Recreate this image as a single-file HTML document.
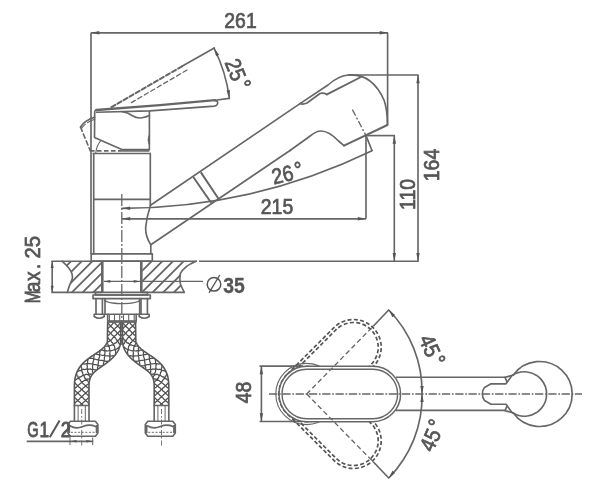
<!DOCTYPE html>
<html><head><meta charset="utf-8"><title>Faucet dimensions</title>
<style>
html,body{margin:0;padding:0;background:#fff;}
body{width:600px;height:503px;overflow:hidden;}
svg{display:block;font-family:"Liberation Sans",sans-serif;}
</style></head><body>
<svg width="600" height="503" viewBox="0 0 600 503">
<rect width="600" height="503" fill="#fff"/>
<defs><filter id="soft" x="0" y="0" width="600" height="503" filterUnits="userSpaceOnUse"><feGaussianBlur stdDeviation="0.5"/></filter></defs>
<g filter="url(#soft)">
<line x1="91.00" y1="32.80" x2="388.00" y2="32.80" stroke="#666666" stroke-width="1.65" />
<line x1="91.00" y1="32.80" x2="91.00" y2="254.00" stroke="#666666" stroke-width="1.65" />
<line x1="387.60" y1="32.80" x2="387.60" y2="125.00" stroke="#666666" stroke-width="1.65" />
<polygon points="91.30,32.80 99.30,31.10 99.30,34.50" fill="#555"/>
<polygon points="387.70,32.80 379.70,34.50 379.70,31.10" fill="#555"/>
<text transform="translate(240.5 20.2) rotate(0) scale(0.88 1)" font-size="22" font-weight="normal" fill="#555" stroke="#555" stroke-width="0.75" text-anchor="middle" letter-spacing="0" y="7.88">261</text>
<line x1="348.00" y1="75.00" x2="418.60" y2="75.00" stroke="#666666" stroke-width="1.65" />
<line x1="418.00" y1="75.00" x2="418.00" y2="261.30" stroke="#666666" stroke-width="1.65" />
<polygon points="418.00,75.20 419.70,83.20 416.30,83.20" fill="#555"/>
<polygon points="418.00,261.00 416.30,253.00 419.70,253.00" fill="#555"/>
<text transform="translate(431.5 165) rotate(-90) scale(0.88 1)" font-size="22" font-weight="normal" fill="#555" stroke="#555" stroke-width="0.75" text-anchor="middle" letter-spacing="0" y="7.88">164</text>
<line x1="366.00" y1="135.60" x2="395.00" y2="135.60" stroke="#666666" stroke-width="1.65" />
<line x1="394.30" y1="135.60" x2="394.30" y2="261.30" stroke="#666666" stroke-width="1.65" />
<polygon points="394.30,135.80 396.00,143.80 392.60,143.80" fill="#555"/>
<polygon points="394.30,261.00 392.60,253.00 396.00,253.00" fill="#555"/>
<text transform="translate(407.3 194.5) rotate(-90) scale(0.88 1)" font-size="22" font-weight="normal" fill="#555" stroke="#555" stroke-width="0.75" text-anchor="middle" letter-spacing="0" y="7.88">110</text>
<line x1="122.00" y1="218.80" x2="366.00" y2="218.80" stroke="#666666" stroke-width="1.65" />
<line x1="366.00" y1="135.60" x2="366.00" y2="218.80" stroke="#666666" stroke-width="1.65" />
<polygon points="122.20,218.80 130.20,217.10 130.20,220.50" fill="#555"/>
<polygon points="365.80,218.80 357.80,220.50 357.80,217.10" fill="#555"/>
<text transform="translate(277 206.3) rotate(0) scale(0.88 1)" font-size="22" font-weight="normal" fill="#555" stroke="#555" stroke-width="0.75" text-anchor="middle" letter-spacing="0" y="7.88">215</text>
<line x1="51.30" y1="261.20" x2="196.50" y2="261.20" stroke="#666666" stroke-width="1.65" />
<line x1="199.00" y1="261.20" x2="418.80" y2="261.20" stroke="#666666" stroke-width="1.65" />
<path d="M122,208.3 A577,577 0 0 0 372,150.7" stroke="#666666" stroke-width="1.65" fill="none" stroke-linejoin="round" stroke-linecap="round" />
<polygon points="122.20,208.30 130.20,206.60 130.20,210.00" fill="#555"/>
<line x1="366.00" y1="135.60" x2="372.20" y2="151.00" stroke="#666666" stroke-width="1.65" />
<text transform="translate(287.2 173.2) rotate(-13) scale(0.88 1)" font-size="22" font-weight="normal" fill="#555" stroke="#555" stroke-width="0.75" text-anchor="middle" letter-spacing="0" y="7.88">26<tspan dx="2.4" dy="-1.4">°</tspan></text>
<path d="M93.7,153.5 L93.7,254 M150.3,153.5 L150.3,205.3" stroke="#666666" stroke-width="1.65" fill="none" stroke-linejoin="round" stroke-linecap="round" />
<line x1="92.60" y1="153.50" x2="151.00" y2="153.50" stroke="#666666" stroke-width="1.65" />
<line x1="93.70" y1="199.40" x2="150.00" y2="199.40" stroke="#666666" stroke-width="1.65" />
<path d="M91.2,253.8 L152.3,253.8 L152.3,261 L91.2,261 Z" stroke="#666666" stroke-width="1.65" fill="none" stroke-linejoin="round" stroke-linecap="round" />
<line x1="121.80" y1="194.00" x2="121.80" y2="345.00" stroke="#666666" stroke-width="1.3" stroke-dasharray="12 2 2 2" />
<path d="M96.3,110 Q94.6,110.3 94.7,112 L94.5,137.6 L121.8,149.6 L149.4,149.6 L149.4,111" stroke="#666666" stroke-width="1.65" fill="none" stroke-linejoin="round" stroke-linecap="round" />
<path d="M96.3,110 L160,105.2 L215,100.2" stroke="#666666" stroke-width="2.3" fill="none" stroke-linejoin="round" stroke-linecap="round" />
<path d="M215,100.2 L229.3,98.4" stroke="#666666" stroke-width="1.65" fill="none" stroke-linejoin="round" stroke-linecap="round" />
<path d="M96.5,112.3 L150,110.9 L214.5,106.1 Q217,105.8 217.6,103.6 Q218.3,101 215,100.6" stroke="#666666" stroke-width="1.65" fill="none" stroke-linejoin="round" stroke-linecap="round" />
<path d="M122.5,111.8 Q128,112.5 132,115.5 Q137,118.7 142,117.8 Q146,117.3 149.4,115.6" stroke="#666666" stroke-width="1.65" fill="none" stroke-linejoin="round" stroke-linecap="round" />
<path d="M149.4,135 Q147.3,139.5 149.4,144.5" stroke="#666666" stroke-width="1.3" fill="none" stroke-linejoin="round" stroke-linecap="round" />
<line x1="121.80" y1="150.90" x2="149.40" y2="150.90" stroke="#666666" stroke-width="1.65" />
<line x1="90.00" y1="150.90" x2="121.80" y2="150.90" stroke="#666666" stroke-width="1.65" stroke-dasharray="4.5 2.5" />
<path d="M100.5,141 Q96.5,146 95.8,152.5" stroke="#666666" stroke-width="1.2" fill="none" stroke-linejoin="round" stroke-linecap="round" />
<path d="M94.7,117.3 Q84.5,120.5 80.5,127" stroke="#666666" stroke-width="1.65" fill="none" stroke-linejoin="round" stroke-linecap="round" />
<path d="M94.7,119.3 Q86,122 81.5,128.5" stroke="#666666" stroke-width="1.1" fill="none" stroke-dasharray="8 2.5" stroke-linejoin="round" stroke-linecap="round" />
<path d="M80.5,127 L90.2,150.6" stroke="#666666" stroke-width="1.6" fill="none" stroke-dasharray="4.5 3" stroke-linejoin="round" stroke-linecap="round" />
<path d="M214.3,48 L182,66.3" stroke="#666666" stroke-width="1.65" fill="none" stroke-linejoin="round" stroke-linecap="round" />
<path d="M182,66.3 L109.5,108.3" stroke="#666666" stroke-width="2.0" fill="none" stroke-dasharray="4.5 2.5" stroke-linejoin="round" stroke-linecap="round" />
<path d="M187,70 L129,104" stroke="#666666" stroke-width="1.3" fill="none" stroke-dasharray="4.5 3" stroke-linejoin="round" stroke-linecap="round" />
<path d="M214,48 Q226,72 229.4,98.4" stroke="#666666" stroke-width="1.65" fill="none" stroke-linejoin="round" stroke-linecap="round" />
<polygon points="214.10,48.20 219.13,54.65 216.08,56.14" fill="#555"/>
<polygon points="229.40,98.20 226.60,90.51 229.97,90.04" fill="#555"/>
<text transform="translate(237.7 74.2) rotate(68) scale(0.88 1)" font-size="22" font-weight="normal" fill="#555" stroke="#555" stroke-width="0.75" text-anchor="middle" letter-spacing="0" y="7.88">25<tspan dx="2.4" dy="-1.4">°</tspan></text>
<path d="M150.5,205.3 L300,103.6" stroke="#666666" stroke-width="1.65" fill="none" stroke-linejoin="round" stroke-linecap="round" />
<path d="M150.8,244.8 L290,150.5" stroke="#666666" stroke-width="1.65" fill="none" stroke-linejoin="round" stroke-linecap="round" />
<path d="M150.5,205.3 Q146.6,217 145.6,228 Q145.6,237 150.8,244.8 L150.8,253.8" stroke="#666666" stroke-width="1.65" fill="none" stroke-linejoin="round" stroke-linecap="round" />
<path d="M193.8,177.8 L210.8,202.3 M201.2,172.9 L218.5,198.7" stroke="#666666" stroke-width="2.0" fill="none" stroke-linejoin="round" stroke-linecap="round" />
<path d="M300,103.6 L328,85 Q338,76 348,75 Q372,73 384,100 Q387.5,110 387.4,125" stroke="#666666" stroke-width="1.65" fill="none" stroke-linejoin="round" stroke-linecap="round" />
<path d="M387.4,125 L344,145.6" stroke="#666666" stroke-width="2.0" fill="none" stroke-linejoin="round" stroke-linecap="round" />
<path d="M344,145.6 L338.5,141 Q329,131 321,131 Q316,131 309.5,136.5 L290,150.5" stroke="#666666" stroke-width="1.65" fill="none" stroke-linejoin="round" stroke-linecap="round" />
<path d="M300,103.6 Q303,104.8 307,103 L320,93.5 Q323,92.5 327,94.4" stroke="#666666" stroke-width="1.65" fill="none" stroke-linejoin="round" stroke-linecap="round" />
<path d="M327,94.4 L361,77" stroke="#666666" stroke-width="1.9" fill="none" stroke-linejoin="round" stroke-linecap="round" />
<line x1="352.40" y1="109.60" x2="366.00" y2="135.60" stroke="#666666" stroke-width="1.3" stroke-dasharray="7 2 2 2" />
<line x1="52.20" y1="261.20" x2="52.20" y2="292.40" stroke="#666666" stroke-width="1.65" />
<polygon points="52.20,261.40 53.70,267.90 50.70,267.90" fill="#555"/>
<polygon points="52.20,292.20 50.70,285.70 53.70,285.70" fill="#555"/>
<line x1="51.30" y1="292.40" x2="102.00" y2="292.40" stroke="#666666" stroke-width="1.65" />
<text transform="translate(39.8 303.3) rotate(-90) scale(0.68 1)" font-size="22.5" font-weight="normal" fill="#555" stroke="#555" stroke-width="0.9" letter-spacing="0">M</text>
<text transform="translate(39.8 292.3) rotate(-90) scale(0.85 1)" font-size="22.5" font-weight="normal" fill="#555" stroke="#555" stroke-width="0.75" letter-spacing="0">a</text>
<text transform="translate(39.8 280.9) rotate(-90) scale(0.85 1)" font-size="22.5" font-weight="normal" fill="#555" stroke="#555" stroke-width="0.75" letter-spacing="0">x</text>
<text transform="translate(39.8 269.3) rotate(-90) scale(0.85 1)" font-size="22.5" font-weight="normal" fill="#555" stroke="#555" stroke-width="0.75" letter-spacing="0">.</text>
<text transform="translate(39.8 258.4) rotate(-90) scale(0.9 1)" font-size="22.5" font-weight="normal" fill="#555" stroke="#555" stroke-width="0.75" letter-spacing="0">25</text>
<clipPath id="cl"><path d="M62,261.2 Q70,268 72,273.7 Q73,277 72,279.7 Q69,286 67.3,292.4 L101.3,292.4 L101.3,261.2 Z"/></clipPath>
<clipPath id="cr"><path d="M142.3,261.2 L196.3,261.2 Q184,266 180.3,273.7 Q179.5,279 180.3,283.7 Q182,288 184.3,292.4 L142.3,292.4 Z"/></clipPath>
<path d="M32.30,300 L77.30,255 M42.97,300 L87.97,255 M53.64,300 L98.64,255 M64.31,300 L109.31,255 M74.98,300 L119.98,255 M85.65,300 L130.65,255 M96.32,300 L141.32,255" stroke="#666666" stroke-width="1.8" fill="none" clip-path="url(#cl)"/>
<path d="M102.23,300 L147.23,255 M112.90,300 L157.90,255 M123.57,300 L168.57,255 M134.24,300 L179.24,255 M144.91,300 L189.91,255 M155.58,300 L200.58,255 M166.25,300 L211.25,255 M176.92,300 L221.92,255" stroke="#666666" stroke-width="1.8" fill="none" clip-path="url(#cr)"/>
<path d="M62,261.2 Q70,268 72,273.7 Q73,277 72,279.7 Q69,286 67.3,292.4" stroke="#666666" stroke-width="1.65" fill="none" stroke-linejoin="round" stroke-linecap="round" />
<path d="M196.3,261.2 Q184,266 180.3,273.7 Q179.5,279 180.3,283.7 Q182,288 184.3,292.4 L142.3,292.4" stroke="#666666" stroke-width="1.65" fill="none" stroke-linejoin="round" stroke-linecap="round" />
<line x1="102.30" y1="261.20" x2="102.30" y2="292.40" stroke="#666666" stroke-width="2.6" />
<line x1="141.30" y1="261.20" x2="141.30" y2="292.40" stroke="#666666" stroke-width="2.6" />
<line x1="104.00" y1="281.40" x2="203.00" y2="281.40" stroke="#666666" stroke-width="1.1" />
<polygon points="103.80,281.40 110.30,280.10 110.30,282.70" fill="#555"/>
<polygon points="140.20,281.40 133.70,282.70 133.70,280.10" fill="#555"/>
<circle cx="214" cy="284.3" r="6.8" fill="none" stroke="#555" stroke-width="1.5"/>
<line x1="209.00" y1="292.80" x2="219.80" y2="275.00" stroke="#555" stroke-width="1.3" />
<text transform="translate(234 284.8) rotate(0) scale(0.9 1)" font-size="21.5" font-weight="bold" fill="#555" stroke="#555" stroke-width="0.3" text-anchor="middle" letter-spacing="0" y="7.70">35</text>
<path d="M95.4,292.4 L147.5,292.4 L147.5,295 L95.4,295 Z" stroke="#666666" stroke-width="1.6" fill="none" stroke-linejoin="round" stroke-linecap="round" />
<path d="M93,295 L150.3,295 L150.3,298.6 L93,298.6 Z" stroke="#666666" stroke-width="1.65" fill="none" stroke-linejoin="round" stroke-linecap="round" />
<path d="M96,298.6 L96,314.2 M102.4,298.6 L102.4,314.2" stroke="#666666" stroke-width="1.65" fill="none" stroke-linejoin="round" stroke-linecap="round" />
<path d="M94.2,314.2 L104.2,314.2 L104.2,316.5 Q99.2,320 94.2,316.5 Z" stroke="#666666" stroke-width="1.65" fill="none" stroke-linejoin="round" stroke-linecap="round" />
<path d="M141,298.6 L141,314.2 M147.4,298.6 L147.4,314.2" stroke="#666666" stroke-width="1.65" fill="none" stroke-linejoin="round" stroke-linecap="round" />
<path d="M139.2,314.2 L149.2,314.2 L149.2,316.5 Q144.2,320 139.2,316.5 Z" stroke="#666666" stroke-width="1.65" fill="none" stroke-linejoin="round" stroke-linecap="round" />
<path d="M105,298.6 L105,314.2 L139.7,314.2 L139.7,298.6" stroke="#666666" stroke-width="1.65" fill="none" stroke-linejoin="round" stroke-linecap="round" />
<path d="M105,300 Q106,303.3 121,303.6 M139.7,300 Q138.5,303.3 122.5,303.6" stroke="#666666" stroke-width="1.2" fill="none" stroke-linejoin="round" stroke-linecap="round" />
<path d="M107.7,314.2 L107.7,321 L136.2,321 L136.2,314.2" stroke="#666666" stroke-width="1.65" fill="none" stroke-linejoin="round" stroke-linecap="round" />
<line x1="109.40" y1="314.20" x2="109.40" y2="321.00" stroke="#666666" stroke-width="1.1" />
<line x1="114.50" y1="314.20" x2="114.50" y2="321.00" stroke="#666666" stroke-width="1.1" />
<line x1="119.70" y1="314.20" x2="119.70" y2="321.00" stroke="#666666" stroke-width="1.1" />
<line x1="123.50" y1="314.20" x2="123.50" y2="321.00" stroke="#666666" stroke-width="1.1" />
<line x1="128.70" y1="314.20" x2="128.70" y2="321.00" stroke="#666666" stroke-width="1.1" />
<line x1="134.20" y1="314.20" x2="134.20" y2="321.00" stroke="#666666" stroke-width="1.1" />
<clipPath id="hca"><path d="M107.65,321.50 L107.64,322.00 L107.64,322.50 L107.63,323.00 L107.63,323.50 L107.62,324.00 L107.61,324.50 L107.61,325.00 L107.60,325.50 L107.59,326.00 L107.59,326.50 L107.58,327.00 L107.58,327.50 L107.57,328.00 L107.56,328.50 L107.56,329.00 L107.55,329.50 L107.54,330.00 L107.54,330.50 L107.53,331.00 L107.53,331.50 L107.52,332.00 L107.51,332.50 L107.51,333.00 L107.50,333.50 L107.49,334.00 L107.49,334.50 L107.48,335.00 L107.48,335.50 L107.47,336.00 L107.46,336.50 L107.46,337.00 L107.45,337.50 L107.44,338.00 L107.44,338.50 L107.43,338.90 L107.41,339.69 L107.35,340.33 L107.27,340.92 L107.16,341.48 L107.04,342.01 L106.89,342.50 L106.72,342.98 L106.53,343.45 L106.31,343.90 L106.06,344.35 L105.79,344.81 L105.48,345.27 L105.13,345.73 L104.75,346.21 L104.33,346.70 L103.86,347.19 L103.35,347.71 L102.79,348.23 L102.17,348.79 L101.86,349.04 L101.54,349.32 L101.19,349.60 L100.84,349.89 L100.48,350.18 L100.10,350.47 L99.71,350.76 L99.32,351.06 L98.91,351.36 L98.49,351.67 L98.06,351.98 L97.62,352.30 L97.16,352.62 L96.70,352.94 L96.23,353.26 L95.75,353.60 L95.25,353.93 L94.75,354.27 L94.23,354.62 L93.71,354.97 L93.17,355.33 L92.67,355.66 L92.23,355.94 L91.69,356.29 L91.17,356.64 L90.64,356.99 L90.13,357.34 L89.61,357.69 L89.12,358.05 L88.61,358.41 L88.13,358.78 L87.64,359.15 L87.16,359.52 L86.68,359.89 L86.22,360.28 L85.75,360.66 L85.30,361.05 L84.82,361.48 L83.97,362.27 L83.12,363.11 L82.30,363.97 L81.51,364.87 L80.75,365.80 L80.02,366.76 L79.34,367.75 L78.69,368.78 L78.08,369.84 L77.52,370.92 L77.00,372.04 L76.52,373.19 L76.10,374.36 L75.73,375.56 L75.41,376.79 L75.14,377.99 L75.01,378.68 L74.90,379.31 L74.81,379.96 L74.72,380.60 L74.65,381.26 L74.58,381.92 L74.53,382.59 L74.48,383.25 L74.45,383.94 L74.42,384.61 L74.41,385.31 L74.40,385.95 L74.40,386.50 L74.40,387.00 L74.40,387.50 L74.40,388.00 L74.40,388.50 L74.40,389.00 L74.40,389.50 L74.40,390.00 L74.40,390.50 L74.40,391.00 L74.40,391.50 L74.40,392.00 L74.40,392.50 L74.40,393.00 L74.40,393.50 L74.40,394.00 L74.40,394.50 L74.40,395.00 L74.40,395.50 L74.40,396.00 L74.40,396.50 L74.40,397.00 L74.40,397.50 L74.40,398.00 L74.40,398.50 L74.40,399.00 L74.40,399.50 L74.40,400.00 L74.40,400.50 L74.40,401.00 L74.40,401.50 L74.40,402.00 L74.40,402.50 L74.40,403.00 L74.40,403.50 L74.40,404.00 L74.40,404.50 L74.40,405.00 L74.40,405.50 L74.40,406.00 L89.00,406.00 L89.00,405.50 L89.00,405.00 L89.00,404.50 L89.00,404.00 L89.00,403.50 L89.00,403.00 L89.00,402.50 L89.00,402.00 L89.00,401.50 L89.00,401.00 L89.00,400.50 L89.00,400.00 L89.00,399.50 L89.00,399.00 L89.00,398.50 L89.00,398.00 L89.00,397.50 L89.00,397.00 L89.00,396.50 L89.00,396.00 L89.00,395.50 L89.00,395.00 L89.00,394.50 L89.00,394.00 L89.00,393.50 L89.00,393.00 L89.00,392.50 L89.00,392.00 L89.00,391.50 L89.00,391.00 L89.00,390.50 L89.00,390.00 L89.00,389.50 L89.00,389.00 L89.00,388.50 L89.00,388.00 L89.00,387.50 L89.00,387.00 L89.00,386.50 L89.00,386.05 L89.01,385.51 L89.01,385.03 L89.03,384.56 L89.05,384.10 L89.09,383.66 L89.12,383.23 L89.16,382.82 L89.21,382.41 L89.26,382.02 L89.32,381.63 L89.38,381.26 L89.44,380.94 L89.60,380.20 L89.77,379.55 L89.96,378.93 L90.16,378.33 L90.38,377.76 L90.61,377.20 L90.87,376.67 L91.16,376.14 L91.46,375.62 L91.80,375.11 L92.16,374.60 L92.56,374.08 L92.99,373.56 L93.46,373.04 L93.97,372.52 L94.54,371.96 L94.81,371.71 L95.11,371.44 L95.42,371.17 L95.74,370.89 L96.07,370.61 L96.41,370.33 L96.77,370.05 L97.13,369.76 L97.51,369.48 L97.89,369.19 L98.29,368.90 L98.70,368.60 L99.12,368.31 L99.54,368.01 L99.99,367.71 L100.53,367.34 L101.11,366.93 L101.66,366.55 L102.19,366.17 L102.73,365.79 L103.25,365.42 L103.78,365.04 L104.29,364.67 L104.81,364.29 L105.31,363.92 L105.81,363.55 L106.30,363.18 L106.80,362.81 L107.28,362.44 L107.76,362.06 L108.23,361.69 L108.70,361.31 L109.16,360.94 L109.62,360.56 L110.06,360.18 L110.51,359.79 L110.95,359.40 L111.41,358.99 L112.23,358.21 L113.06,357.39 L113.86,356.55 L114.62,355.68 L115.36,354.78 L116.07,353.86 L116.74,352.89 L117.37,351.90 L117.95,350.87 L118.49,349.80 L118.98,348.70 L119.41,347.57 L119.78,346.42 L120.10,345.23 L120.35,344.02 L120.54,342.79 L120.68,341.55 L120.75,340.28 L120.77,339.10 L120.76,338.50 L120.76,338.00 L120.75,337.50 L120.74,337.00 L120.74,336.50 L120.73,336.00 L120.72,335.50 L120.72,335.00 L120.71,334.50 L120.71,334.00 L120.70,333.50 L120.69,333.00 L120.69,332.50 L120.68,332.00 L120.67,331.50 L120.67,331.00 L120.66,330.50 L120.66,330.00 L120.65,329.50 L120.64,329.00 L120.64,328.50 L120.63,328.00 L120.62,327.50 L120.62,327.00 L120.61,326.50 L120.61,326.00 L120.60,325.50 L120.59,325.00 L120.59,324.50 L120.58,324.00 L120.57,323.50 L120.57,323.00 L120.56,322.50 L120.56,322.00 L120.55,321.50 Z"/></clipPath>
<path d="M107.65,321.50 L107.64,322.00 L107.64,322.50 L107.63,323.00 L107.63,323.50 L107.62,324.00 L107.61,324.50 L107.61,325.00 L107.60,325.50 L107.59,326.00 L107.59,326.50 L107.58,327.00 L107.58,327.50 L107.57,328.00 L107.56,328.50 L107.56,329.00 L107.55,329.50 L107.54,330.00 L107.54,330.50 L107.53,331.00 L107.53,331.50 L107.52,332.00 L107.51,332.50 L107.51,333.00 L107.50,333.50 L107.49,334.00 L107.49,334.50 L107.48,335.00 L107.48,335.50 L107.47,336.00 L107.46,336.50 L107.46,337.00 L107.45,337.50 L107.44,338.00 L107.44,338.50 L107.43,338.90 L107.41,339.69 L107.35,340.33 L107.27,340.92 L107.16,341.48 L107.04,342.01 L106.89,342.50 L106.72,342.98 L106.53,343.45 L106.31,343.90 L106.06,344.35 L105.79,344.81 L105.48,345.27 L105.13,345.73 L104.75,346.21 L104.33,346.70 L103.86,347.19 L103.35,347.71 L102.79,348.23 L102.17,348.79 L101.86,349.04 L101.54,349.32 L101.19,349.60 L100.84,349.89 L100.48,350.18 L100.10,350.47 L99.71,350.76 L99.32,351.06 L98.91,351.36 L98.49,351.67 L98.06,351.98 L97.62,352.30 L97.16,352.62 L96.70,352.94 L96.23,353.26 L95.75,353.60 L95.25,353.93 L94.75,354.27 L94.23,354.62 L93.71,354.97 L93.17,355.33 L92.67,355.66 L92.23,355.94 L91.69,356.29 L91.17,356.64 L90.64,356.99 L90.13,357.34 L89.61,357.69 L89.12,358.05 L88.61,358.41 L88.13,358.78 L87.64,359.15 L87.16,359.52 L86.68,359.89 L86.22,360.28 L85.75,360.66 L85.30,361.05 L84.82,361.48 L83.97,362.27 L83.12,363.11 L82.30,363.97 L81.51,364.87 L80.75,365.80 L80.02,366.76 L79.34,367.75 L78.69,368.78 L78.08,369.84 L77.52,370.92 L77.00,372.04 L76.52,373.19 L76.10,374.36 L75.73,375.56 L75.41,376.79 L75.14,377.99 L75.01,378.68 L74.90,379.31 L74.81,379.96 L74.72,380.60 L74.65,381.26 L74.58,381.92 L74.53,382.59 L74.48,383.25 L74.45,383.94 L74.42,384.61 L74.41,385.31 L74.40,385.95 L74.40,386.50 L74.40,387.00 L74.40,387.50 L74.40,388.00 L74.40,388.50 L74.40,389.00 L74.40,389.50 L74.40,390.00 L74.40,390.50 L74.40,391.00 L74.40,391.50 L74.40,392.00 L74.40,392.50 L74.40,393.00 L74.40,393.50 L74.40,394.00 L74.40,394.50 L74.40,395.00 L74.40,395.50 L74.40,396.00 L74.40,396.50 L74.40,397.00 L74.40,397.50 L74.40,398.00 L74.40,398.50 L74.40,399.00 L74.40,399.50 L74.40,400.00 L74.40,400.50 L74.40,401.00 L74.40,401.50 L74.40,402.00 L74.40,402.50 L74.40,403.00 L74.40,403.50 L74.40,404.00 L74.40,404.50 L74.40,405.00 L74.40,405.50 L74.40,406.00 L89.00,406.00 L89.00,405.50 L89.00,405.00 L89.00,404.50 L89.00,404.00 L89.00,403.50 L89.00,403.00 L89.00,402.50 L89.00,402.00 L89.00,401.50 L89.00,401.00 L89.00,400.50 L89.00,400.00 L89.00,399.50 L89.00,399.00 L89.00,398.50 L89.00,398.00 L89.00,397.50 L89.00,397.00 L89.00,396.50 L89.00,396.00 L89.00,395.50 L89.00,395.00 L89.00,394.50 L89.00,394.00 L89.00,393.50 L89.00,393.00 L89.00,392.50 L89.00,392.00 L89.00,391.50 L89.00,391.00 L89.00,390.50 L89.00,390.00 L89.00,389.50 L89.00,389.00 L89.00,388.50 L89.00,388.00 L89.00,387.50 L89.00,387.00 L89.00,386.50 L89.00,386.05 L89.01,385.51 L89.01,385.03 L89.03,384.56 L89.05,384.10 L89.09,383.66 L89.12,383.23 L89.16,382.82 L89.21,382.41 L89.26,382.02 L89.32,381.63 L89.38,381.26 L89.44,380.94 L89.60,380.20 L89.77,379.55 L89.96,378.93 L90.16,378.33 L90.38,377.76 L90.61,377.20 L90.87,376.67 L91.16,376.14 L91.46,375.62 L91.80,375.11 L92.16,374.60 L92.56,374.08 L92.99,373.56 L93.46,373.04 L93.97,372.52 L94.54,371.96 L94.81,371.71 L95.11,371.44 L95.42,371.17 L95.74,370.89 L96.07,370.61 L96.41,370.33 L96.77,370.05 L97.13,369.76 L97.51,369.48 L97.89,369.19 L98.29,368.90 L98.70,368.60 L99.12,368.31 L99.54,368.01 L99.99,367.71 L100.53,367.34 L101.11,366.93 L101.66,366.55 L102.19,366.17 L102.73,365.79 L103.25,365.42 L103.78,365.04 L104.29,364.67 L104.81,364.29 L105.31,363.92 L105.81,363.55 L106.30,363.18 L106.80,362.81 L107.28,362.44 L107.76,362.06 L108.23,361.69 L108.70,361.31 L109.16,360.94 L109.62,360.56 L110.06,360.18 L110.51,359.79 L110.95,359.40 L111.41,358.99 L112.23,358.21 L113.06,357.39 L113.86,356.55 L114.62,355.68 L115.36,354.78 L116.07,353.86 L116.74,352.89 L117.37,351.90 L117.95,350.87 L118.49,349.80 L118.98,348.70 L119.41,347.57 L119.78,346.42 L120.10,345.23 L120.35,344.02 L120.54,342.79 L120.68,341.55 L120.75,340.28 L120.77,339.10 L120.76,338.50 L120.76,338.00 L120.75,337.50 L120.74,337.00 L120.74,336.50 L120.73,336.00 L120.72,335.50 L120.72,335.00 L120.71,334.50 L120.71,334.00 L120.70,333.50 L120.69,333.00 L120.69,332.50 L120.68,332.00 L120.67,331.50 L120.67,331.00 L120.66,330.50 L120.66,330.00 L120.65,329.50 L120.64,329.00 L120.64,328.50 L120.63,328.00 L120.62,327.50 L120.62,327.00 L120.61,326.50 L120.61,326.00 L120.60,325.50 L120.59,325.00 L120.59,324.50 L120.58,324.00 L120.57,323.50 L120.57,323.00 L120.56,322.50 L120.56,322.00 L120.55,321.50 Z" fill="#fff" stroke="none"/>
<path d="M114.10,322.50 L113.45,323.00 L112.81,323.50 L112.15,324.50 L111.50,325.00 L110.85,325.50 L110.19,326.50 L109.54,327.00 L108.88,327.50 L108.22,328.50 L107.56,329.00 M114.10,322.50 L114.75,323.00 L115.39,323.50 L116.05,324.50 L116.70,325.00 L117.35,325.50 L118.01,326.50 L118.66,327.00 L119.32,327.50 L119.98,328.50 L120.64,329.00 M120.57,323.00 L119.93,323.50 L119.28,324.00 L118.65,325.00 L118.00,325.50 L117.35,326.00 L116.71,327.00 L116.06,327.50 L115.41,328.00 L114.75,329.00 L114.10,329.50 L113.44,330.50 L112.79,331.00 L112.13,331.50 L111.47,332.50 L110.80,333.00 L110.14,333.50 L109.47,334.50 L108.81,335.00 L108.14,335.50 L107.46,336.50 M107.63,323.00 L108.27,323.50 L108.92,324.00 L109.55,325.00 L110.20,325.50 L110.85,326.00 L111.49,327.00 L112.14,327.50 L112.79,328.00 L113.45,329.00 L114.10,329.50 L114.76,330.50 L115.41,331.00 L116.07,331.50 L116.73,332.50 L117.40,333.00 L118.06,333.50 L118.73,334.50 L119.39,335.00 L120.06,335.50 L120.74,336.50 M120.66,330.00 L120.01,331.00 L119.36,331.50 L118.71,332.00 L118.06,333.00 L117.40,333.50 L116.74,334.00 L116.09,335.00 L115.42,335.50 L114.76,336.00 L114.10,337.00 L113.44,337.50 L112.77,338.00 L112.10,338.97 L111.41,339.86 L110.68,340.63 L110.02,340.57 L109.26,341.20 L108.48,341.73 L107.82,341.61 L107.04,342.01 M107.54,330.00 L108.19,331.00 L108.84,331.50 L109.49,332.00 L110.14,333.00 L110.80,333.50 L111.46,334.00 L112.11,335.00 L112.78,335.50 L113.44,336.00 L114.10,337.00 L114.76,337.50 L115.43,338.00 L116.10,339.03 L116.75,340.10 L117.35,341.24 L118.01,341.30 L118.55,342.51 L119.03,343.77 L119.69,343.90 L120.10,345.23 M120.75,337.50 L120.09,338.00 L119.43,339.08 L118.75,340.19 L118.08,340.16 L117.35,341.24 L116.56,342.23 L115.74,343.13 L115.08,343.01 L114.22,343.78 L113.34,344.46 L112.43,345.05 L111.79,344.82 L110.88,345.29 L109.96,345.67 L109.03,345.98 L108.10,346.23 L107.52,345.87 L106.60,346.03 L105.68,346.14 L104.75,346.21 M107.45,337.50 L108.11,338.00 L108.77,338.92 L109.41,339.78 L110.07,339.81 L110.68,340.63 L111.25,341.48 L111.78,342.37 L112.44,342.50 L112.91,343.46 L113.34,344.46 L113.70,345.51 L114.33,345.74 L114.62,346.86 L114.84,348.03 L114.98,349.24 L115.05,350.48 L115.63,350.83 L115.61,352.13 L115.52,353.45 L115.36,354.78 M119.78,346.42 L118.77,347.35 L117.73,348.18 L116.66,348.92 L115.57,349.57 L114.98,349.24 L113.89,349.77 L112.80,350.22 L111.69,350.61 L110.59,350.92 L110.06,350.50 L108.96,350.74 L107.86,350.94 L106.75,351.10 L106.26,350.61 L105.15,350.73 L104.01,350.83 L103.55,350.32 L102.77,350.08 L101.64,350.13 L100.84,349.89 M106.89,342.50 L107.35,343.21 L107.77,343.97 L108.14,344.79 L108.44,345.66 L109.03,345.98 L109.26,346.93 L109.42,347.94 L109.51,348.98 L109.53,350.07 L110.06,350.50 L109.99,351.64 L109.86,352.81 L109.66,354.00 L110.14,354.48 L109.87,355.71 L109.56,356.95 L110.02,357.46 L110.04,358.36 L109.62,359.65 L109.62,360.56 M114.62,355.68 L113.36,356.08 L112.86,355.61 L111.60,355.94 L110.35,356.21 L109.87,355.71 L108.63,355.93 L107.77,355.78 L106.52,355.95 L105.67,355.76 L104.82,355.56 L103.97,355.35 L102.70,355.46 L101.84,355.24 L100.98,355.01 L100.12,354.78 L99.26,354.55 L97.92,354.64 L97.03,354.41 L96.15,354.17 L95.25,353.93 M104.33,346.70 L104.36,347.66 L104.86,348.13 L104.80,349.16 L104.68,350.23 L105.15,350.73 L104.94,351.85 L105.04,352.67 L104.74,353.83 L104.79,354.69 L104.82,355.56 L104.83,356.43 L104.38,357.66 L104.35,358.56 L104.31,359.47 L104.24,360.38 L104.17,361.30 L103.59,362.59 L103.49,363.53 L103.38,364.47 L103.25,365.42 M108.70,361.31 L107.80,361.14 L106.44,361.33 L105.55,361.14 L104.65,360.94 L103.76,360.74 L102.86,360.53 L101.97,360.32 L100.57,360.46 L99.65,360.25 L98.74,360.03 L97.81,359.82 L96.89,359.60 L95.95,359.39 L95.03,359.16 L94.17,358.88 L93.26,358.63 L92.36,358.39 L90.95,358.49 L90.03,358.27 L89.12,358.05 M100.10,350.47 L100.14,351.31 L99.74,352.47 L99.74,353.34 L99.71,354.22 L99.67,355.11 L99.61,356.01 L99.54,356.91 L98.96,358.17 L98.85,359.10 L98.74,360.03 L98.61,360.97 L98.48,361.92 L98.33,362.87 L98.17,363.84 L98.05,364.77 L97.97,365.66 L97.93,366.56 L97.48,367.74 L97.48,368.61 L97.51,369.48 M102.19,366.17 L101.26,365.97 L100.32,365.77 L99.35,365.59 L98.44,365.35 L97.58,365.08 L96.73,364.81 L95.88,364.54 L94.58,364.59 L93.73,364.34 L92.87,364.09 L92.02,363.85 L90.73,363.96 L89.85,363.74 L88.98,363.54 L88.09,363.36 L86.77,363.57 L85.47,363.80 L84.16,364.10 L83.64,363.60 L82.30,363.97 M94.23,354.62 L94.11,355.55 L93.97,356.49 L93.85,357.41 L93.78,358.30 L93.65,359.22 L93.55,360.14 L93.46,361.05 L92.93,362.29 L92.89,363.19 L92.87,364.09 L92.88,364.98 L92.51,366.17 L92.57,367.04 L92.66,367.90 L92.77,368.75 L92.60,369.86 L92.47,370.98 L92.43,372.05 L92.95,372.55 L92.99,373.56 M96.77,370.05 L95.97,369.77 L94.83,369.79 L94.04,369.53 L93.24,369.28 L92.11,369.34 L90.97,369.44 L90.47,368.93 L89.33,369.07 L88.18,369.25 L87.65,368.77 L86.48,369.02 L85.32,369.32 L84.15,369.68 L83.56,369.26 L82.37,369.72 L81.18,370.25 L80.00,370.86 L79.36,370.52 L78.17,371.24 L77.00,372.04 M88.13,358.78 L88.07,359.70 L87.59,360.99 L87.60,361.91 L87.62,362.82 L87.25,364.10 L86.97,365.34 L87.47,365.85 L87.26,367.08 L87.11,368.29 L87.65,368.77 L87.59,369.94 L87.60,371.08 L87.68,372.19 L88.27,372.60 L88.43,373.66 L88.66,374.67 L88.95,375.64 L89.59,375.98 L89.96,376.89 L90.38,377.76 M92.56,374.08 L91.59,374.16 L90.62,374.27 L90.03,373.86 L89.04,374.05 L88.04,374.30 L87.04,374.62 L86.40,374.28 L85.37,374.69 L84.36,375.19 L83.69,374.90 L82.66,375.50 L81.64,376.19 L80.64,376.96 L79.94,376.76 L78.95,377.64 L78.00,378.58 L77.28,378.44 L76.34,379.54 L75.53,380.06 L74.72,380.60 M81.51,364.87 L81.32,366.24 L81.20,367.59 L81.79,368.01 L81.76,369.33 L81.80,370.62 L81.92,371.88 L82.56,372.23 L82.75,373.44 L83.02,374.61 L83.69,374.90 L84.02,376.02 L84.41,377.10 L84.86,378.15 L85.56,378.35 L86.05,379.35 L86.58,380.35 L87.29,380.50 L87.88,381.40 L88.54,381.91 L89.21,382.41 M90.16,378.33 L89.27,378.70 L88.37,379.15 L87.67,378.95 L86.76,379.52 L85.86,380.21 L85.15,380.06 L84.35,380.36 L83.48,381.19 L82.69,381.59 L81.90,382.04 L81.08,383.07 L80.31,383.59 L79.55,384.15 L78.80,384.74 L78.06,385.36 L77.32,385.97 L76.59,387.00 L75.86,387.50 L75.13,388.00 L74.40,389.00 M76.52,373.19 L76.79,374.59 L77.13,375.96 L77.83,376.16 L78.24,377.47 L78.71,378.73 L79.43,378.88 L80.04,379.58 L80.59,380.78 L81.24,381.41 L81.90,382.04 L82.53,383.18 L83.22,383.76 L83.93,384.34 L84.64,384.90 L85.36,385.46 L86.08,386.03 L86.81,387.00 L87.54,387.50 L88.27,388.00 L89.00,389.00 M89.12,383.23 L88.32,384.06 L87.58,384.50 L86.82,384.96 L86.09,385.47 L85.35,386.03 L84.62,387.00 L83.89,387.50 L83.16,388.00 L82.43,389.00 L81.70,389.50 L80.97,390.00 L80.24,391.00 L79.51,391.50 L78.78,392.00 L78.05,393.00 L77.32,393.50 L76.59,394.00 L75.86,395.00 L75.13,395.50 L74.40,396.00 M74.58,381.92 L75.21,383.30 L75.91,384.00 L76.61,384.68 L77.33,385.35 L78.05,385.97 L78.78,387.00 L79.51,387.50 L80.24,388.00 L80.97,389.00 L81.70,389.50 L82.43,390.00 L83.16,391.00 L83.89,391.50 L84.62,392.00 L85.35,393.00 L86.08,393.50 L86.81,394.00 L87.54,395.00 L88.27,395.50 L89.00,396.00 M89.00,390.00 L88.27,390.50 L87.54,391.50 L86.81,392.00 L86.08,392.50 L85.35,393.50 L84.62,394.00 L83.89,394.50 L83.16,395.50 L82.43,396.00 L81.70,397.00 L80.97,397.50 L80.24,398.00 L79.51,399.00 L78.78,399.50 L78.05,400.00 L77.32,401.00 L76.59,401.50 L75.86,402.00 L75.13,403.00 L74.40,403.50 M74.40,390.00 L75.13,390.50 L75.86,391.50 L76.59,392.00 L77.32,392.50 L78.05,393.50 L78.78,394.00 L79.51,394.50 L80.24,395.50 L80.97,396.00 L81.70,397.00 L82.43,397.50 L83.16,398.00 L83.89,399.00 L84.62,399.50 L85.35,400.00 L86.08,401.00 L86.81,401.50 L87.54,402.00 L88.27,403.00 L89.00,403.50 M89.00,397.50 L88.27,398.00 L87.54,398.50 L86.81,399.50 L86.08,400.00 L85.35,400.50 L84.62,401.50 L83.89,402.00 L83.16,402.50 L82.43,403.50 L81.70,404.00 L80.97,404.50 L80.24,405.50 L79.51,406.00 M74.40,397.50 L75.13,398.00 L75.86,398.50 L76.59,399.50 L77.32,400.00 L78.05,400.50 L78.78,401.50 L79.51,402.00 L80.24,402.50 L80.97,403.50 L81.70,404.00 L82.43,404.50 L83.16,405.50 L83.89,406.00 M89.00,404.50 L88.27,405.50 L87.54,406.00 M74.40,404.50 L75.13,405.50 L75.86,406.00" stroke="#505050" stroke-width="1.25" fill="none" clip-path="url(#hca)"/>
<path d="M107.65,321.50 L107.64,322.00 L107.64,322.50 L107.63,323.00 L107.63,323.50 L107.62,324.00 L107.61,324.50 L107.61,325.00 L107.60,325.50 L107.59,326.00 L107.59,326.50 L107.58,327.00 L107.58,327.50 L107.57,328.00 L107.56,328.50 L107.56,329.00 L107.55,329.50 L107.54,330.00 L107.54,330.50 L107.53,331.00 L107.53,331.50 L107.52,332.00 L107.51,332.50 L107.51,333.00 L107.50,333.50 L107.49,334.00 L107.49,334.50 L107.48,335.00 L107.48,335.50 L107.47,336.00 L107.46,336.50 L107.46,337.00 L107.45,337.50 L107.44,338.00 L107.44,338.50 L107.43,338.90 L107.41,339.69 L107.35,340.33 L107.27,340.92 L107.16,341.48 L107.04,342.01 L106.89,342.50 L106.72,342.98 L106.53,343.45 L106.31,343.90 L106.06,344.35 L105.79,344.81 L105.48,345.27 L105.13,345.73 L104.75,346.21 L104.33,346.70 L103.86,347.19 L103.35,347.71 L102.79,348.23 L102.17,348.79 L101.86,349.04 L101.54,349.32 L101.19,349.60 L100.84,349.89 L100.48,350.18 L100.10,350.47 L99.71,350.76 L99.32,351.06 L98.91,351.36 L98.49,351.67 L98.06,351.98 L97.62,352.30 L97.16,352.62 L96.70,352.94 L96.23,353.26 L95.75,353.60 L95.25,353.93 L94.75,354.27 L94.23,354.62 L93.71,354.97 L93.17,355.33 L92.67,355.66 L92.23,355.94 L91.69,356.29 L91.17,356.64 L90.64,356.99 L90.13,357.34 L89.61,357.69 L89.12,358.05 L88.61,358.41 L88.13,358.78 L87.64,359.15 L87.16,359.52 L86.68,359.89 L86.22,360.28 L85.75,360.66 L85.30,361.05 L84.82,361.48 L83.97,362.27 L83.12,363.11 L82.30,363.97 L81.51,364.87 L80.75,365.80 L80.02,366.76 L79.34,367.75 L78.69,368.78 L78.08,369.84 L77.52,370.92 L77.00,372.04 L76.52,373.19 L76.10,374.36 L75.73,375.56 L75.41,376.79 L75.14,377.99 L75.01,378.68 L74.90,379.31 L74.81,379.96 L74.72,380.60 L74.65,381.26 L74.58,381.92 L74.53,382.59 L74.48,383.25 L74.45,383.94 L74.42,384.61 L74.41,385.31 L74.40,385.95 L74.40,386.50 L74.40,387.00 L74.40,387.50 L74.40,388.00 L74.40,388.50 L74.40,389.00 L74.40,389.50 L74.40,390.00 L74.40,390.50 L74.40,391.00 L74.40,391.50 L74.40,392.00 L74.40,392.50 L74.40,393.00 L74.40,393.50 L74.40,394.00 L74.40,394.50 L74.40,395.00 L74.40,395.50 L74.40,396.00 L74.40,396.50 L74.40,397.00 L74.40,397.50 L74.40,398.00 L74.40,398.50 L74.40,399.00 L74.40,399.50 L74.40,400.00 L74.40,400.50 L74.40,401.00 L74.40,401.50 L74.40,402.00 L74.40,402.50 L74.40,403.00 L74.40,403.50 L74.40,404.00 L74.40,404.50 L74.40,405.00 L74.40,405.50 L74.40,406.00 M120.55,321.50 L120.56,322.00 L120.56,322.50 L120.57,323.00 L120.57,323.50 L120.58,324.00 L120.59,324.50 L120.59,325.00 L120.60,325.50 L120.61,326.00 L120.61,326.50 L120.62,327.00 L120.62,327.50 L120.63,328.00 L120.64,328.50 L120.64,329.00 L120.65,329.50 L120.66,330.00 L120.66,330.50 L120.67,331.00 L120.67,331.50 L120.68,332.00 L120.69,332.50 L120.69,333.00 L120.70,333.50 L120.71,334.00 L120.71,334.50 L120.72,335.00 L120.72,335.50 L120.73,336.00 L120.74,336.50 L120.74,337.00 L120.75,337.50 L120.76,338.00 L120.76,338.50 L120.77,339.10 L120.75,340.28 L120.68,341.55 L120.54,342.79 L120.35,344.02 L120.10,345.23 L119.78,346.42 L119.41,347.57 L118.98,348.70 L118.49,349.80 L117.95,350.87 L117.37,351.90 L116.74,352.89 L116.07,353.86 L115.36,354.78 L114.62,355.68 L113.86,356.55 L113.06,357.39 L112.23,358.21 L111.41,358.99 L110.95,359.40 L110.51,359.79 L110.06,360.18 L109.62,360.56 L109.16,360.94 L108.70,361.31 L108.23,361.69 L107.76,362.06 L107.28,362.44 L106.80,362.81 L106.30,363.18 L105.81,363.55 L105.31,363.92 L104.81,364.29 L104.29,364.67 L103.78,365.04 L103.25,365.42 L102.73,365.79 L102.19,366.17 L101.66,366.55 L101.11,366.93 L100.53,367.34 L99.99,367.71 L99.54,368.01 L99.12,368.31 L98.70,368.60 L98.29,368.90 L97.89,369.19 L97.51,369.48 L97.13,369.76 L96.77,370.05 L96.41,370.33 L96.07,370.61 L95.74,370.89 L95.42,371.17 L95.11,371.44 L94.81,371.71 L94.54,371.96 L93.97,372.52 L93.46,373.04 L92.99,373.56 L92.56,374.08 L92.16,374.60 L91.80,375.11 L91.46,375.62 L91.16,376.14 L90.87,376.67 L90.61,377.20 L90.38,377.76 L90.16,378.33 L89.96,378.93 L89.77,379.55 L89.60,380.20 L89.44,380.94 L89.38,381.26 L89.32,381.63 L89.26,382.02 L89.21,382.41 L89.16,382.82 L89.12,383.23 L89.09,383.66 L89.05,384.10 L89.03,384.56 L89.01,385.03 L89.01,385.51 L89.00,386.05 L89.00,386.50 L89.00,387.00 L89.00,387.50 L89.00,388.00 L89.00,388.50 L89.00,389.00 L89.00,389.50 L89.00,390.00 L89.00,390.50 L89.00,391.00 L89.00,391.50 L89.00,392.00 L89.00,392.50 L89.00,393.00 L89.00,393.50 L89.00,394.00 L89.00,394.50 L89.00,395.00 L89.00,395.50 L89.00,396.00 L89.00,396.50 L89.00,397.00 L89.00,397.50 L89.00,398.00 L89.00,398.50 L89.00,399.00 L89.00,399.50 L89.00,400.00 L89.00,400.50 L89.00,401.00 L89.00,401.50 L89.00,402.00 L89.00,402.50 L89.00,403.00 L89.00,403.50 L89.00,404.00 L89.00,404.50 L89.00,405.00 L89.00,405.50 L89.00,406.00" stroke="#585858" stroke-width="1.6" fill="none"/>
<clipPath id="hcb"><path d="M122.65,321.50 L122.64,322.00 L122.64,322.50 L122.63,323.00 L122.63,323.50 L122.62,324.00 L122.61,324.50 L122.61,325.00 L122.60,325.50 L122.59,326.00 L122.59,326.50 L122.58,327.00 L122.58,327.50 L122.57,328.00 L122.56,328.50 L122.56,329.00 L122.55,329.50 L122.54,330.00 L122.54,330.50 L122.53,331.00 L122.53,331.50 L122.52,332.00 L122.51,332.50 L122.51,333.00 L122.50,333.50 L122.49,334.00 L122.49,334.50 L122.48,335.00 L122.48,335.50 L122.47,336.00 L122.46,336.50 L122.46,337.00 L122.45,337.50 L122.44,338.00 L122.44,338.50 L122.43,339.10 L122.45,340.28 L122.52,341.55 L122.66,342.79 L122.85,344.02 L123.10,345.23 L123.42,346.42 L123.79,347.57 L124.22,348.70 L124.71,349.80 L125.25,350.87 L125.83,351.90 L126.46,352.89 L127.13,353.86 L127.84,354.78 L128.58,355.68 L129.34,356.55 L130.14,357.39 L130.97,358.21 L131.79,358.99 L132.25,359.40 L132.69,359.79 L133.14,360.18 L133.58,360.56 L134.04,360.94 L134.50,361.31 L134.97,361.69 L135.44,362.06 L135.92,362.44 L136.40,362.81 L136.90,363.18 L137.39,363.55 L137.89,363.92 L138.39,364.29 L138.91,364.67 L139.42,365.04 L139.95,365.42 L140.47,365.79 L141.01,366.17 L141.54,366.55 L142.09,366.93 L142.67,367.34 L143.21,367.71 L143.66,368.01 L144.08,368.31 L144.50,368.60 L144.91,368.90 L145.31,369.19 L145.69,369.48 L146.07,369.76 L146.43,370.05 L146.79,370.33 L147.13,370.61 L147.46,370.89 L147.78,371.17 L148.09,371.44 L148.39,371.71 L148.66,371.96 L149.23,372.52 L149.74,373.04 L150.21,373.56 L150.64,374.08 L151.04,374.60 L151.40,375.11 L151.74,375.62 L152.04,376.14 L152.33,376.67 L152.59,377.20 L152.82,377.76 L153.04,378.33 L153.24,378.93 L153.43,379.55 L153.60,380.20 L153.76,380.94 L153.82,381.26 L153.88,381.63 L153.94,382.02 L153.99,382.41 L154.04,382.82 L154.08,383.23 L154.11,383.66 L154.15,384.10 L154.17,384.56 L154.19,385.03 L154.19,385.51 L154.20,386.05 L154.20,386.50 L154.20,387.00 L154.20,387.50 L154.20,388.00 L154.20,388.50 L154.20,389.00 L154.20,389.50 L154.20,390.00 L154.20,390.50 L154.20,391.00 L154.20,391.50 L154.20,392.00 L154.20,392.50 L154.20,393.00 L154.20,393.50 L154.20,394.00 L154.20,394.50 L154.20,395.00 L154.20,395.50 L154.20,396.00 L154.20,396.50 L154.20,397.00 L154.20,397.50 L154.20,398.00 L154.20,398.50 L154.20,399.00 L154.20,399.50 L154.20,400.00 L154.20,400.50 L154.20,401.00 L154.20,401.50 L154.20,402.00 L154.20,402.50 L154.20,403.00 L154.20,403.50 L154.20,404.00 L154.20,404.50 L154.20,405.00 L154.20,405.50 L154.20,406.00 L168.80,406.00 L168.80,405.50 L168.80,405.00 L168.80,404.50 L168.80,404.00 L168.80,403.50 L168.80,403.00 L168.80,402.50 L168.80,402.00 L168.80,401.50 L168.80,401.00 L168.80,400.50 L168.80,400.00 L168.80,399.50 L168.80,399.00 L168.80,398.50 L168.80,398.00 L168.80,397.50 L168.80,397.00 L168.80,396.50 L168.80,396.00 L168.80,395.50 L168.80,395.00 L168.80,394.50 L168.80,394.00 L168.80,393.50 L168.80,393.00 L168.80,392.50 L168.80,392.00 L168.80,391.50 L168.80,391.00 L168.80,390.50 L168.80,390.00 L168.80,389.50 L168.80,389.00 L168.80,388.50 L168.80,388.00 L168.80,387.50 L168.80,387.00 L168.80,386.50 L168.80,385.95 L168.79,385.31 L168.78,384.61 L168.75,383.94 L168.72,383.25 L168.67,382.59 L168.62,381.92 L168.55,381.26 L168.48,380.60 L168.39,379.96 L168.30,379.31 L168.19,378.68 L168.06,377.99 L167.79,376.79 L167.47,375.56 L167.10,374.36 L166.68,373.19 L166.20,372.04 L165.68,370.92 L165.12,369.84 L164.51,368.78 L163.86,367.75 L163.18,366.76 L162.45,365.80 L161.69,364.87 L160.90,363.97 L160.08,363.11 L159.23,362.27 L158.38,361.48 L157.90,361.05 L157.45,360.66 L156.98,360.28 L156.52,359.89 L156.04,359.52 L155.56,359.15 L155.07,358.78 L154.59,358.41 L154.08,358.05 L153.59,357.69 L153.07,357.34 L152.56,356.99 L152.03,356.64 L151.51,356.29 L150.97,355.94 L150.53,355.66 L150.03,355.33 L149.49,354.97 L148.97,354.62 L148.45,354.27 L147.95,353.93 L147.45,353.60 L146.97,353.26 L146.50,352.94 L146.04,352.62 L145.58,352.30 L145.14,351.98 L144.71,351.67 L144.29,351.36 L143.88,351.06 L143.49,350.76 L143.10,350.47 L142.72,350.18 L142.36,349.89 L142.01,349.60 L141.66,349.32 L141.34,349.04 L141.03,348.79 L140.41,348.23 L139.85,347.71 L139.34,347.19 L138.87,346.70 L138.45,346.21 L138.07,345.73 L137.72,345.27 L137.41,344.81 L137.14,344.35 L136.89,343.90 L136.67,343.45 L136.48,342.98 L136.31,342.50 L136.16,342.01 L136.04,341.48 L135.93,340.92 L135.85,340.33 L135.79,339.69 L135.77,338.90 L135.76,338.50 L135.76,338.00 L135.75,337.50 L135.74,337.00 L135.74,336.50 L135.73,336.00 L135.72,335.50 L135.72,335.00 L135.71,334.50 L135.71,334.00 L135.70,333.50 L135.69,333.00 L135.69,332.50 L135.68,332.00 L135.67,331.50 L135.67,331.00 L135.66,330.50 L135.66,330.00 L135.65,329.50 L135.64,329.00 L135.64,328.50 L135.63,328.00 L135.62,327.50 L135.62,327.00 L135.61,326.50 L135.61,326.00 L135.60,325.50 L135.59,325.00 L135.59,324.50 L135.58,324.00 L135.57,323.50 L135.57,323.00 L135.56,322.50 L135.56,322.00 L135.55,321.50 Z"/></clipPath>
<path d="M122.65,321.50 L122.64,322.00 L122.64,322.50 L122.63,323.00 L122.63,323.50 L122.62,324.00 L122.61,324.50 L122.61,325.00 L122.60,325.50 L122.59,326.00 L122.59,326.50 L122.58,327.00 L122.58,327.50 L122.57,328.00 L122.56,328.50 L122.56,329.00 L122.55,329.50 L122.54,330.00 L122.54,330.50 L122.53,331.00 L122.53,331.50 L122.52,332.00 L122.51,332.50 L122.51,333.00 L122.50,333.50 L122.49,334.00 L122.49,334.50 L122.48,335.00 L122.48,335.50 L122.47,336.00 L122.46,336.50 L122.46,337.00 L122.45,337.50 L122.44,338.00 L122.44,338.50 L122.43,339.10 L122.45,340.28 L122.52,341.55 L122.66,342.79 L122.85,344.02 L123.10,345.23 L123.42,346.42 L123.79,347.57 L124.22,348.70 L124.71,349.80 L125.25,350.87 L125.83,351.90 L126.46,352.89 L127.13,353.86 L127.84,354.78 L128.58,355.68 L129.34,356.55 L130.14,357.39 L130.97,358.21 L131.79,358.99 L132.25,359.40 L132.69,359.79 L133.14,360.18 L133.58,360.56 L134.04,360.94 L134.50,361.31 L134.97,361.69 L135.44,362.06 L135.92,362.44 L136.40,362.81 L136.90,363.18 L137.39,363.55 L137.89,363.92 L138.39,364.29 L138.91,364.67 L139.42,365.04 L139.95,365.42 L140.47,365.79 L141.01,366.17 L141.54,366.55 L142.09,366.93 L142.67,367.34 L143.21,367.71 L143.66,368.01 L144.08,368.31 L144.50,368.60 L144.91,368.90 L145.31,369.19 L145.69,369.48 L146.07,369.76 L146.43,370.05 L146.79,370.33 L147.13,370.61 L147.46,370.89 L147.78,371.17 L148.09,371.44 L148.39,371.71 L148.66,371.96 L149.23,372.52 L149.74,373.04 L150.21,373.56 L150.64,374.08 L151.04,374.60 L151.40,375.11 L151.74,375.62 L152.04,376.14 L152.33,376.67 L152.59,377.20 L152.82,377.76 L153.04,378.33 L153.24,378.93 L153.43,379.55 L153.60,380.20 L153.76,380.94 L153.82,381.26 L153.88,381.63 L153.94,382.02 L153.99,382.41 L154.04,382.82 L154.08,383.23 L154.11,383.66 L154.15,384.10 L154.17,384.56 L154.19,385.03 L154.19,385.51 L154.20,386.05 L154.20,386.50 L154.20,387.00 L154.20,387.50 L154.20,388.00 L154.20,388.50 L154.20,389.00 L154.20,389.50 L154.20,390.00 L154.20,390.50 L154.20,391.00 L154.20,391.50 L154.20,392.00 L154.20,392.50 L154.20,393.00 L154.20,393.50 L154.20,394.00 L154.20,394.50 L154.20,395.00 L154.20,395.50 L154.20,396.00 L154.20,396.50 L154.20,397.00 L154.20,397.50 L154.20,398.00 L154.20,398.50 L154.20,399.00 L154.20,399.50 L154.20,400.00 L154.20,400.50 L154.20,401.00 L154.20,401.50 L154.20,402.00 L154.20,402.50 L154.20,403.00 L154.20,403.50 L154.20,404.00 L154.20,404.50 L154.20,405.00 L154.20,405.50 L154.20,406.00 L168.80,406.00 L168.80,405.50 L168.80,405.00 L168.80,404.50 L168.80,404.00 L168.80,403.50 L168.80,403.00 L168.80,402.50 L168.80,402.00 L168.80,401.50 L168.80,401.00 L168.80,400.50 L168.80,400.00 L168.80,399.50 L168.80,399.00 L168.80,398.50 L168.80,398.00 L168.80,397.50 L168.80,397.00 L168.80,396.50 L168.80,396.00 L168.80,395.50 L168.80,395.00 L168.80,394.50 L168.80,394.00 L168.80,393.50 L168.80,393.00 L168.80,392.50 L168.80,392.00 L168.80,391.50 L168.80,391.00 L168.80,390.50 L168.80,390.00 L168.80,389.50 L168.80,389.00 L168.80,388.50 L168.80,388.00 L168.80,387.50 L168.80,387.00 L168.80,386.50 L168.80,385.95 L168.79,385.31 L168.78,384.61 L168.75,383.94 L168.72,383.25 L168.67,382.59 L168.62,381.92 L168.55,381.26 L168.48,380.60 L168.39,379.96 L168.30,379.31 L168.19,378.68 L168.06,377.99 L167.79,376.79 L167.47,375.56 L167.10,374.36 L166.68,373.19 L166.20,372.04 L165.68,370.92 L165.12,369.84 L164.51,368.78 L163.86,367.75 L163.18,366.76 L162.45,365.80 L161.69,364.87 L160.90,363.97 L160.08,363.11 L159.23,362.27 L158.38,361.48 L157.90,361.05 L157.45,360.66 L156.98,360.28 L156.52,359.89 L156.04,359.52 L155.56,359.15 L155.07,358.78 L154.59,358.41 L154.08,358.05 L153.59,357.69 L153.07,357.34 L152.56,356.99 L152.03,356.64 L151.51,356.29 L150.97,355.94 L150.53,355.66 L150.03,355.33 L149.49,354.97 L148.97,354.62 L148.45,354.27 L147.95,353.93 L147.45,353.60 L146.97,353.26 L146.50,352.94 L146.04,352.62 L145.58,352.30 L145.14,351.98 L144.71,351.67 L144.29,351.36 L143.88,351.06 L143.49,350.76 L143.10,350.47 L142.72,350.18 L142.36,349.89 L142.01,349.60 L141.66,349.32 L141.34,349.04 L141.03,348.79 L140.41,348.23 L139.85,347.71 L139.34,347.19 L138.87,346.70 L138.45,346.21 L138.07,345.73 L137.72,345.27 L137.41,344.81 L137.14,344.35 L136.89,343.90 L136.67,343.45 L136.48,342.98 L136.31,342.50 L136.16,342.01 L136.04,341.48 L135.93,340.92 L135.85,340.33 L135.79,339.69 L135.77,338.90 L135.76,338.50 L135.76,338.00 L135.75,337.50 L135.74,337.00 L135.74,336.50 L135.73,336.00 L135.72,335.50 L135.72,335.00 L135.71,334.50 L135.71,334.00 L135.70,333.50 L135.69,333.00 L135.69,332.50 L135.68,332.00 L135.67,331.50 L135.67,331.00 L135.66,330.50 L135.66,330.00 L135.65,329.50 L135.64,329.00 L135.64,328.50 L135.63,328.00 L135.62,327.50 L135.62,327.00 L135.61,326.50 L135.61,326.00 L135.60,325.50 L135.59,325.00 L135.59,324.50 L135.58,324.00 L135.57,323.50 L135.57,323.00 L135.56,322.50 L135.56,322.00 L135.55,321.50 Z" fill="#fff" stroke="none"/>
<path d="M129.10,322.50 L128.45,323.00 L127.81,323.50 L127.15,324.50 L126.50,325.00 L125.85,325.50 L125.19,326.50 L124.54,327.00 L123.88,327.50 L123.22,328.50 L122.56,329.00 M129.10,322.50 L129.75,323.00 L130.39,323.50 L131.05,324.50 L131.70,325.00 L132.35,325.50 L133.01,326.50 L133.66,327.00 L134.32,327.50 L134.98,328.50 L135.64,329.00 M135.57,323.00 L134.93,323.50 L134.28,324.00 L133.65,325.00 L133.00,325.50 L132.35,326.00 L131.71,327.00 L131.06,327.50 L130.41,328.00 L129.75,329.00 L129.10,329.50 L128.44,330.50 L127.79,331.00 L127.13,331.50 L126.47,332.50 L125.80,333.00 L125.14,333.50 L124.47,334.50 L123.81,335.00 L123.14,335.50 L122.46,336.50 M122.63,323.00 L123.27,323.50 L123.92,324.00 L124.55,325.00 L125.20,325.50 L125.85,326.00 L126.49,327.00 L127.14,327.50 L127.79,328.00 L128.45,329.00 L129.10,329.50 L129.76,330.50 L130.41,331.00 L131.07,331.50 L131.73,332.50 L132.40,333.00 L133.06,333.50 L133.73,334.50 L134.39,335.00 L135.06,335.50 L135.74,336.50 M135.66,330.00 L135.01,331.00 L134.36,331.50 L133.71,332.00 L133.06,333.00 L132.40,333.50 L131.74,334.00 L131.09,335.00 L130.42,335.50 L129.76,336.00 L129.10,337.00 L128.44,337.50 L127.77,338.00 L127.10,339.03 L126.45,340.10 L125.85,341.24 L125.19,341.30 L124.65,342.51 L124.17,343.77 L123.51,343.90 L123.10,345.23 M122.54,330.00 L123.19,331.00 L123.84,331.50 L124.49,332.00 L125.14,333.00 L125.80,333.50 L126.46,334.00 L127.11,335.00 L127.78,335.50 L128.44,336.00 L129.10,337.00 L129.76,337.50 L130.43,338.00 L131.10,338.97 L131.79,339.86 L132.52,340.63 L133.18,340.57 L133.94,341.20 L134.72,341.73 L135.38,341.61 L136.16,342.01 M135.75,337.50 L135.09,338.00 L134.43,338.92 L133.79,339.78 L133.13,339.81 L132.52,340.63 L131.95,341.48 L131.42,342.37 L130.76,342.50 L130.29,343.46 L129.86,344.46 L129.50,345.51 L128.87,345.74 L128.58,346.86 L128.36,348.03 L128.22,349.24 L128.15,350.48 L127.57,350.83 L127.59,352.13 L127.68,353.45 L127.84,354.78 M122.45,337.50 L123.11,338.00 L123.77,339.08 L124.45,340.19 L125.12,340.16 L125.85,341.24 L126.64,342.23 L127.46,343.13 L128.12,343.01 L128.98,343.78 L129.86,344.46 L130.77,345.05 L131.41,344.82 L132.32,345.29 L133.24,345.67 L134.17,345.98 L135.10,346.23 L135.68,345.87 L136.60,346.03 L137.52,346.14 L138.45,346.21 M136.31,342.50 L135.85,343.21 L135.43,343.97 L135.06,344.79 L134.76,345.66 L134.17,345.98 L133.94,346.93 L133.78,347.94 L133.69,348.98 L133.67,350.07 L133.14,350.50 L133.21,351.64 L133.34,352.81 L133.54,354.00 L133.06,354.48 L133.33,355.71 L133.64,356.95 L133.18,357.46 L133.16,358.36 L133.58,359.65 L133.58,360.56 M123.42,346.42 L124.43,347.35 L125.47,348.18 L126.54,348.92 L127.63,349.57 L128.22,349.24 L129.31,349.77 L130.40,350.22 L131.51,350.61 L132.61,350.92 L133.14,350.50 L134.24,350.74 L135.34,350.94 L136.45,351.10 L136.94,350.61 L138.05,350.73 L139.19,350.83 L139.65,350.32 L140.43,350.08 L141.56,350.13 L142.36,349.89 M138.87,346.70 L138.84,347.66 L138.34,348.13 L138.40,349.16 L138.52,350.23 L138.05,350.73 L138.26,351.85 L138.16,352.67 L138.46,353.83 L138.41,354.69 L138.38,355.56 L138.37,356.43 L138.82,357.66 L138.85,358.56 L138.89,359.47 L138.96,360.38 L139.03,361.30 L139.61,362.59 L139.71,363.53 L139.82,364.47 L139.95,365.42 M128.58,355.68 L129.84,356.08 L130.34,355.61 L131.60,355.94 L132.85,356.21 L133.33,355.71 L134.57,355.93 L135.43,355.78 L136.68,355.95 L137.53,355.76 L138.38,355.56 L139.23,355.35 L140.50,355.46 L141.36,355.24 L142.22,355.01 L143.08,354.78 L143.94,354.55 L145.28,354.64 L146.17,354.41 L147.05,354.17 L147.95,353.93 M143.10,350.47 L143.06,351.31 L143.46,352.47 L143.46,353.34 L143.49,354.22 L143.53,355.11 L143.59,356.01 L143.66,356.91 L144.24,358.17 L144.35,359.10 L144.46,360.03 L144.59,360.97 L144.72,361.92 L144.87,362.87 L145.03,363.84 L145.15,364.77 L145.23,365.66 L145.27,366.56 L145.72,367.74 L145.72,368.61 L145.69,369.48 M134.50,361.31 L135.40,361.14 L136.76,361.33 L137.65,361.14 L138.55,360.94 L139.44,360.74 L140.34,360.53 L141.23,360.32 L142.63,360.46 L143.55,360.25 L144.46,360.03 L145.39,359.82 L146.31,359.60 L147.25,359.39 L148.17,359.16 L149.03,358.88 L149.94,358.63 L150.84,358.39 L152.25,358.49 L153.17,358.27 L154.08,358.05 M148.97,354.62 L149.09,355.55 L149.23,356.49 L149.35,357.41 L149.42,358.30 L149.55,359.22 L149.65,360.14 L149.74,361.05 L150.27,362.29 L150.31,363.19 L150.33,364.09 L150.32,364.98 L150.69,366.17 L150.63,367.04 L150.54,367.90 L150.43,368.75 L150.60,369.86 L150.73,370.98 L150.77,372.05 L150.25,372.55 L150.21,373.56 M141.01,366.17 L141.94,365.97 L142.88,365.77 L143.85,365.59 L144.76,365.35 L145.62,365.08 L146.47,364.81 L147.32,364.54 L148.62,364.59 L149.47,364.34 L150.33,364.09 L151.18,363.85 L152.47,363.96 L153.35,363.74 L154.22,363.54 L155.11,363.36 L156.43,363.57 L157.73,363.80 L159.04,364.10 L159.56,363.60 L160.90,363.97 M155.07,358.78 L155.13,359.70 L155.61,360.99 L155.60,361.91 L155.58,362.82 L155.95,364.10 L156.23,365.34 L155.73,365.85 L155.94,367.08 L156.09,368.29 L155.55,368.77 L155.61,369.94 L155.60,371.08 L155.52,372.19 L154.93,372.60 L154.77,373.66 L154.54,374.67 L154.25,375.64 L153.61,375.98 L153.24,376.89 L152.82,377.76 M146.43,370.05 L147.23,369.77 L148.37,369.79 L149.16,369.53 L149.96,369.28 L151.09,369.34 L152.23,369.44 L152.73,368.93 L153.87,369.07 L155.02,369.25 L155.55,368.77 L156.72,369.02 L157.88,369.32 L159.05,369.68 L159.64,369.26 L160.83,369.72 L162.02,370.25 L163.20,370.86 L163.84,370.52 L165.03,371.24 L166.20,372.04 M161.69,364.87 L161.88,366.24 L162.00,367.59 L161.41,368.01 L161.44,369.33 L161.40,370.62 L161.28,371.88 L160.64,372.23 L160.45,373.44 L160.18,374.61 L159.51,374.90 L159.18,376.02 L158.79,377.10 L158.34,378.15 L157.64,378.35 L157.15,379.35 L156.62,380.35 L155.91,380.50 L155.32,381.40 L154.66,381.91 L153.99,382.41 M150.64,374.08 L151.61,374.16 L152.58,374.27 L153.17,373.86 L154.16,374.05 L155.16,374.30 L156.16,374.62 L156.80,374.28 L157.83,374.69 L158.84,375.19 L159.51,374.90 L160.54,375.50 L161.56,376.19 L162.56,376.96 L163.26,376.76 L164.25,377.64 L165.20,378.58 L165.92,378.44 L166.86,379.54 L167.67,380.06 L168.48,380.60 M166.68,373.19 L166.41,374.59 L166.07,375.96 L165.37,376.16 L164.96,377.47 L164.49,378.73 L163.77,378.88 L163.16,379.58 L162.61,380.78 L161.96,381.41 L161.30,382.04 L160.67,383.18 L159.98,383.76 L159.27,384.34 L158.56,384.90 L157.84,385.46 L157.12,386.03 L156.39,387.00 L155.66,387.50 L154.93,388.00 L154.20,389.00 M153.04,378.33 L153.93,378.70 L154.83,379.15 L155.53,378.95 L156.44,379.52 L157.34,380.21 L158.05,380.06 L158.85,380.36 L159.72,381.19 L160.51,381.59 L161.30,382.04 L162.12,383.07 L162.89,383.59 L163.65,384.15 L164.40,384.74 L165.14,385.36 L165.88,385.97 L166.61,387.00 L167.34,387.50 L168.07,388.00 L168.80,389.00 M168.62,381.92 L167.99,383.30 L167.29,384.00 L166.59,384.68 L165.87,385.35 L165.15,385.97 L164.42,387.00 L163.69,387.50 L162.96,388.00 L162.23,389.00 L161.50,389.50 L160.77,390.00 L160.04,391.00 L159.31,391.50 L158.58,392.00 L157.85,393.00 L157.12,393.50 L156.39,394.00 L155.66,395.00 L154.93,395.50 L154.20,396.00 M154.08,383.23 L154.88,384.06 L155.62,384.50 L156.38,384.96 L157.11,385.47 L157.85,386.03 L158.58,387.00 L159.31,387.50 L160.04,388.00 L160.77,389.00 L161.50,389.50 L162.23,390.00 L162.96,391.00 L163.69,391.50 L164.42,392.00 L165.15,393.00 L165.88,393.50 L166.61,394.00 L167.34,395.00 L168.07,395.50 L168.80,396.00 M168.80,390.00 L168.07,390.50 L167.34,391.50 L166.61,392.00 L165.88,392.50 L165.15,393.50 L164.42,394.00 L163.69,394.50 L162.96,395.50 L162.23,396.00 L161.50,397.00 L160.77,397.50 L160.04,398.00 L159.31,399.00 L158.58,399.50 L157.85,400.00 L157.12,401.00 L156.39,401.50 L155.66,402.00 L154.93,403.00 L154.20,403.50 M154.20,390.00 L154.93,390.50 L155.66,391.50 L156.39,392.00 L157.12,392.50 L157.85,393.50 L158.58,394.00 L159.31,394.50 L160.04,395.50 L160.77,396.00 L161.50,397.00 L162.23,397.50 L162.96,398.00 L163.69,399.00 L164.42,399.50 L165.15,400.00 L165.88,401.00 L166.61,401.50 L167.34,402.00 L168.07,403.00 L168.80,403.50 M168.80,397.50 L168.07,398.00 L167.34,398.50 L166.61,399.50 L165.88,400.00 L165.15,400.50 L164.42,401.50 L163.69,402.00 L162.96,402.50 L162.23,403.50 L161.50,404.00 L160.77,404.50 L160.04,405.50 L159.31,406.00 M154.20,397.50 L154.93,398.00 L155.66,398.50 L156.39,399.50 L157.12,400.00 L157.85,400.50 L158.58,401.50 L159.31,402.00 L160.04,402.50 L160.77,403.50 L161.50,404.00 L162.23,404.50 L162.96,405.50 L163.69,406.00 M168.80,404.50 L168.07,405.50 L167.34,406.00 M154.20,404.50 L154.93,405.50 L155.66,406.00" stroke="#505050" stroke-width="1.25" fill="none" clip-path="url(#hcb)"/>
<path d="M122.65,321.50 L122.64,322.00 L122.64,322.50 L122.63,323.00 L122.63,323.50 L122.62,324.00 L122.61,324.50 L122.61,325.00 L122.60,325.50 L122.59,326.00 L122.59,326.50 L122.58,327.00 L122.58,327.50 L122.57,328.00 L122.56,328.50 L122.56,329.00 L122.55,329.50 L122.54,330.00 L122.54,330.50 L122.53,331.00 L122.53,331.50 L122.52,332.00 L122.51,332.50 L122.51,333.00 L122.50,333.50 L122.49,334.00 L122.49,334.50 L122.48,335.00 L122.48,335.50 L122.47,336.00 L122.46,336.50 L122.46,337.00 L122.45,337.50 L122.44,338.00 L122.44,338.50 L122.43,339.10 L122.45,340.28 L122.52,341.55 L122.66,342.79 L122.85,344.02 L123.10,345.23 L123.42,346.42 L123.79,347.57 L124.22,348.70 L124.71,349.80 L125.25,350.87 L125.83,351.90 L126.46,352.89 L127.13,353.86 L127.84,354.78 L128.58,355.68 L129.34,356.55 L130.14,357.39 L130.97,358.21 L131.79,358.99 L132.25,359.40 L132.69,359.79 L133.14,360.18 L133.58,360.56 L134.04,360.94 L134.50,361.31 L134.97,361.69 L135.44,362.06 L135.92,362.44 L136.40,362.81 L136.90,363.18 L137.39,363.55 L137.89,363.92 L138.39,364.29 L138.91,364.67 L139.42,365.04 L139.95,365.42 L140.47,365.79 L141.01,366.17 L141.54,366.55 L142.09,366.93 L142.67,367.34 L143.21,367.71 L143.66,368.01 L144.08,368.31 L144.50,368.60 L144.91,368.90 L145.31,369.19 L145.69,369.48 L146.07,369.76 L146.43,370.05 L146.79,370.33 L147.13,370.61 L147.46,370.89 L147.78,371.17 L148.09,371.44 L148.39,371.71 L148.66,371.96 L149.23,372.52 L149.74,373.04 L150.21,373.56 L150.64,374.08 L151.04,374.60 L151.40,375.11 L151.74,375.62 L152.04,376.14 L152.33,376.67 L152.59,377.20 L152.82,377.76 L153.04,378.33 L153.24,378.93 L153.43,379.55 L153.60,380.20 L153.76,380.94 L153.82,381.26 L153.88,381.63 L153.94,382.02 L153.99,382.41 L154.04,382.82 L154.08,383.23 L154.11,383.66 L154.15,384.10 L154.17,384.56 L154.19,385.03 L154.19,385.51 L154.20,386.05 L154.20,386.50 L154.20,387.00 L154.20,387.50 L154.20,388.00 L154.20,388.50 L154.20,389.00 L154.20,389.50 L154.20,390.00 L154.20,390.50 L154.20,391.00 L154.20,391.50 L154.20,392.00 L154.20,392.50 L154.20,393.00 L154.20,393.50 L154.20,394.00 L154.20,394.50 L154.20,395.00 L154.20,395.50 L154.20,396.00 L154.20,396.50 L154.20,397.00 L154.20,397.50 L154.20,398.00 L154.20,398.50 L154.20,399.00 L154.20,399.50 L154.20,400.00 L154.20,400.50 L154.20,401.00 L154.20,401.50 L154.20,402.00 L154.20,402.50 L154.20,403.00 L154.20,403.50 L154.20,404.00 L154.20,404.50 L154.20,405.00 L154.20,405.50 L154.20,406.00 M135.55,321.50 L135.56,322.00 L135.56,322.50 L135.57,323.00 L135.57,323.50 L135.58,324.00 L135.59,324.50 L135.59,325.00 L135.60,325.50 L135.61,326.00 L135.61,326.50 L135.62,327.00 L135.62,327.50 L135.63,328.00 L135.64,328.50 L135.64,329.00 L135.65,329.50 L135.66,330.00 L135.66,330.50 L135.67,331.00 L135.67,331.50 L135.68,332.00 L135.69,332.50 L135.69,333.00 L135.70,333.50 L135.71,334.00 L135.71,334.50 L135.72,335.00 L135.72,335.50 L135.73,336.00 L135.74,336.50 L135.74,337.00 L135.75,337.50 L135.76,338.00 L135.76,338.50 L135.77,338.90 L135.79,339.69 L135.85,340.33 L135.93,340.92 L136.04,341.48 L136.16,342.01 L136.31,342.50 L136.48,342.98 L136.67,343.45 L136.89,343.90 L137.14,344.35 L137.41,344.81 L137.72,345.27 L138.07,345.73 L138.45,346.21 L138.87,346.70 L139.34,347.19 L139.85,347.71 L140.41,348.23 L141.03,348.79 L141.34,349.04 L141.66,349.32 L142.01,349.60 L142.36,349.89 L142.72,350.18 L143.10,350.47 L143.49,350.76 L143.88,351.06 L144.29,351.36 L144.71,351.67 L145.14,351.98 L145.58,352.30 L146.04,352.62 L146.50,352.94 L146.97,353.26 L147.45,353.60 L147.95,353.93 L148.45,354.27 L148.97,354.62 L149.49,354.97 L150.03,355.33 L150.53,355.66 L150.97,355.94 L151.51,356.29 L152.03,356.64 L152.56,356.99 L153.07,357.34 L153.59,357.69 L154.08,358.05 L154.59,358.41 L155.07,358.78 L155.56,359.15 L156.04,359.52 L156.52,359.89 L156.98,360.28 L157.45,360.66 L157.90,361.05 L158.38,361.48 L159.23,362.27 L160.08,363.11 L160.90,363.97 L161.69,364.87 L162.45,365.80 L163.18,366.76 L163.86,367.75 L164.51,368.78 L165.12,369.84 L165.68,370.92 L166.20,372.04 L166.68,373.19 L167.10,374.36 L167.47,375.56 L167.79,376.79 L168.06,377.99 L168.19,378.68 L168.30,379.31 L168.39,379.96 L168.48,380.60 L168.55,381.26 L168.62,381.92 L168.67,382.59 L168.72,383.25 L168.75,383.94 L168.78,384.61 L168.79,385.31 L168.80,385.95 L168.80,386.50 L168.80,387.00 L168.80,387.50 L168.80,388.00 L168.80,388.50 L168.80,389.00 L168.80,389.50 L168.80,390.00 L168.80,390.50 L168.80,391.00 L168.80,391.50 L168.80,392.00 L168.80,392.50 L168.80,393.00 L168.80,393.50 L168.80,394.00 L168.80,394.50 L168.80,395.00 L168.80,395.50 L168.80,396.00 L168.80,396.50 L168.80,397.00 L168.80,397.50 L168.80,398.00 L168.80,398.50 L168.80,399.00 L168.80,399.50 L168.80,400.00 L168.80,400.50 L168.80,401.00 L168.80,401.50 L168.80,402.00 L168.80,402.50 L168.80,403.00 L168.80,403.50 L168.80,404.00 L168.80,404.50 L168.80,405.00 L168.80,405.50 L168.80,406.00" stroke="#585858" stroke-width="1.6" fill="none"/>
<line x1="107.20" y1="321.80" x2="136.70" y2="321.80" stroke="#666666" stroke-width="2.2" />
<path d="M74.4,405.5 L74.4,421.3 M89.0,405.5 L89.0,421.3 M74.4,405.5 L89.0,405.5" stroke="#666666" stroke-width="1.65" fill="none" stroke-linejoin="round" stroke-linecap="round" />
<line x1="78.10" y1="406.00" x2="78.10" y2="421.30" stroke="#666666" stroke-width="1.0" />
<line x1="85.30" y1="406.00" x2="85.30" y2="421.30" stroke="#666666" stroke-width="1.0" />
<path d="M70.4,421.3 L95.4,421.3 L97.9,424.5 L97.9,433 L95.4,436.2 L70.4,436.2 L67.9,433 L67.9,424.5 Z" stroke="#666666" stroke-width="1.6" fill="#fff" stroke-linejoin="round" stroke-linecap="round" />
<line x1="68.90" y1="425.00" x2="68.90" y2="433.00" stroke="#666666" stroke-width="2.4" />
<line x1="96.90" y1="425.00" x2="96.90" y2="433.00" stroke="#666666" stroke-width="2.4" />
<path d="M70.4,426 Q75.9,429.5 82.9,426.5 Q89.9,423.8 95.4,426.5" stroke="#666666" stroke-width="1.7" fill="none" stroke-linejoin="round" stroke-linecap="round" />
<line x1="70.90" y1="432.30" x2="94.90" y2="432.30" stroke="#666666" stroke-width="1.0" stroke-dasharray="2 1.6" />
<line x1="81.70" y1="409.00" x2="81.70" y2="447.00" stroke="#666666" stroke-width="0.9" stroke-dasharray="5 2 1.5 2" />
<path d="M154.2,405.5 L154.2,421.3 M168.8,405.5 L168.8,421.3 M154.2,405.5 L168.8,405.5" stroke="#666666" stroke-width="1.65" fill="none" stroke-linejoin="round" stroke-linecap="round" />
<line x1="157.90" y1="406.00" x2="157.90" y2="421.30" stroke="#666666" stroke-width="1.0" />
<line x1="165.10" y1="406.00" x2="165.10" y2="421.30" stroke="#666666" stroke-width="1.0" />
<path d="M147.8,421.3 L172.8,421.3 L175.3,424.5 L175.3,433 L172.8,436.2 L147.8,436.2 L145.3,433 L145.3,424.5 Z" stroke="#666666" stroke-width="1.6" fill="#fff" stroke-linejoin="round" stroke-linecap="round" />
<line x1="146.30" y1="425.00" x2="146.30" y2="433.00" stroke="#666666" stroke-width="2.4" />
<line x1="174.30" y1="425.00" x2="174.30" y2="433.00" stroke="#666666" stroke-width="2.4" />
<path d="M147.8,426 Q153.3,429.5 160.3,426.5 Q167.3,423.8 172.8,426.5" stroke="#666666" stroke-width="1.7" fill="none" stroke-linejoin="round" stroke-linecap="round" />
<line x1="148.30" y1="432.30" x2="172.30" y2="432.30" stroke="#666666" stroke-width="1.0" stroke-dasharray="2 1.6" />
<line x1="161.50" y1="409.00" x2="161.50" y2="447.00" stroke="#666666" stroke-width="0.9" stroke-dasharray="5 2 1.5 2" />
<text transform="translate(27.2 436.6) rotate(0) scale(0.68 1)" font-size="21.5" font-weight="normal" fill="#555" stroke="#555" stroke-width="0.9" letter-spacing="0">G</text>
<text transform="translate(39.5 436.6) rotate(0) scale(0.8 1)" font-size="21.5" font-weight="normal" fill="#555" stroke="#555" stroke-width="0.9" letter-spacing="0">1</text>
<line x1="49.80" y1="437.30" x2="59.60" y2="420.60" stroke="#555" stroke-width="2.0" />
<text transform="translate(60.8 436.6) rotate(0) scale(0.86 1)" font-size="21.5" font-weight="normal" fill="#555" stroke="#555" stroke-width="0.9" letter-spacing="0">2</text>
<line x1="26.70" y1="441.30" x2="93.30" y2="441.30" stroke="#666666" stroke-width="1.65" />
<polygon points="70.50,441.30 76.50,440.10 76.50,442.50" fill="#555"/>
<polygon points="92.30,441.30 86.30,442.50 86.30,440.10" fill="#555"/>
<line x1="70.00" y1="437.50" x2="70.00" y2="445.00" stroke="#666666" stroke-width="1.0" />
<line x1="92.70" y1="437.50" x2="92.70" y2="445.00" stroke="#666666" stroke-width="1.0" />
<line x1="261.40" y1="366.00" x2="261.40" y2="421.50" stroke="#666666" stroke-width="1.65" />
<polygon points="261.40,366.20 263.10,374.20 259.70,374.20" fill="#555"/>
<polygon points="261.40,421.30 259.70,413.30 263.10,413.30" fill="#555"/>
<line x1="259.50" y1="366.10" x2="303.00" y2="366.10" stroke="#666666" stroke-width="1.65" />
<line x1="259.50" y1="421.50" x2="303.00" y2="421.50" stroke="#666666" stroke-width="1.65" />
<text transform="translate(243.2 392.6) rotate(-90) scale(0.88 1)" font-size="22" font-weight="normal" fill="#555" stroke="#555" stroke-width="0.75" text-anchor="middle" letter-spacing="0" y="7.88">48</text>
<circle cx="306.4" cy="394.0" r="30.6" fill="none" stroke="#666666" stroke-width="1.1"/>
<path d="M306.7,366.3 L372.90000000000003,366.3 A27.7,27.7 0 0 1 372.90000000000003,421.7 L306.7,421.7 A27.7,27.7 0 0 1 306.7,366.3 Z" fill="none" stroke="#555" stroke-width="1.7" stroke-dasharray="4 2.3" transform="rotate(-45 306.7 394.0)"/>
<path d="M306.7,369.3 L372.90000000000003,369.3 A24.7,24.7 0 0 1 372.90000000000003,418.7 L306.7,418.7 A24.7,24.7 0 0 1 306.7,369.3 Z" fill="none" stroke="#555" stroke-width="1.7" stroke-dasharray="4 2.3" transform="rotate(-45 306.7 394.0)"/>
<path d="M306.7,366.3 L372.90000000000003,366.3 A27.7,27.7 0 0 1 372.90000000000003,421.7 L306.7,421.7 A27.7,27.7 0 0 1 306.7,366.3 Z" fill="none" stroke="#555" stroke-width="1.7" stroke-dasharray="4 2.3" transform="rotate(45 306.7 394.0)"/>
<path d="M306.7,369.3 L372.90000000000003,369.3 A24.7,24.7 0 0 1 372.90000000000003,418.7 L306.7,418.7 A24.7,24.7 0 0 1 306.7,369.3 Z" fill="none" stroke="#555" stroke-width="1.7" stroke-dasharray="4 2.3" transform="rotate(45 306.7 394.0)"/>
<line x1="396.00" y1="377.20" x2="505.00" y2="377.20" stroke="#666666" stroke-width="1.65" />
<line x1="396.00" y1="410.40" x2="505.00" y2="410.40" stroke="#666666" stroke-width="1.65" />
<path d="M306.7,366.3 L372.90000000000003,366.3 A27.7,27.7 0 0 1 372.90000000000003,421.7 L306.7,421.7 A27.7,27.7 0 0 1 306.7,366.3 Z" fill="#fff" stroke="#666666" stroke-width="1.5" transform="rotate(0 306.7 394.0)"/>
<path d="M306.7,369.3 L372.90000000000003,369.3 A24.7,24.7 0 0 1 372.90000000000003,418.7 L306.7,418.7 A24.7,24.7 0 0 1 306.7,369.3 Z" fill="none" stroke="#666666" stroke-width="1.4" transform="rotate(0 306.7 394.0)"/>
<line x1="388.70" y1="310.00" x2="373.20" y2="326.20" stroke="#666666" stroke-width="1.65" />
<line x1="306.70" y1="394.00" x2="373.20" y2="326.20" stroke="#666666" stroke-width="1.3" stroke-dasharray="5 3" />
<path d="M388.70,310.00 A116,116 0 0 1 422,394.0" stroke="#666666" stroke-width="1.65" fill="none" stroke-linejoin="round" stroke-linecap="round" />
<polygon points="388.80,309.80 395.06,315.06 392.39,317.15" fill="#555"/>
<polygon points="422.00,394.00 420.30,386.00 423.70,386.00" fill="#555"/>
<line x1="388.70" y1="478.00" x2="373.20" y2="461.80" stroke="#666666" stroke-width="1.65" />
<line x1="306.70" y1="394.00" x2="373.20" y2="461.80" stroke="#666666" stroke-width="1.3" stroke-dasharray="5 3" />
<path d="M388.70,478.00 A116,116 0 0 0 422,394.0" stroke="#666666" stroke-width="1.65" fill="none" stroke-linejoin="round" stroke-linecap="round" />
<polygon points="388.80,478.20 392.39,470.85 395.06,472.94" fill="#555"/>
<polygon points="422.00,394.00 423.70,402.00 420.30,402.00" fill="#555"/>
<text transform="translate(432 350.1) rotate(66) scale(0.88 1)" font-size="22" font-weight="normal" fill="#555" stroke="#555" stroke-width="0.75" text-anchor="middle" letter-spacing="0" y="7.88">45<tspan dx="2.4" dy="-1.4">°</tspan></text>
<text transform="translate(432 435.4) rotate(-66) scale(0.88 1)" font-size="22" font-weight="normal" fill="#555" stroke="#555" stroke-width="0.75" text-anchor="middle" letter-spacing="0" y="7.88">45<tspan dx="2.4" dy="-1.4">°</tspan></text>
<path d="M513.33,375.0 A32.5,32.5 0 1 1 513.33,413.0" stroke="#666666" stroke-width="1.65" fill="none" stroke-linejoin="round" stroke-linecap="round" />
<path d="M512,375.6 A22.2,22.2 0 1 1 512,412.4 L506,404.2 L491,404.2 L484.5,400.5 Q482.4,398.0 482.4,394.0 Q482.4,390.0 484.5,387.5 L491,383.8 L506,383.8 Z" stroke="#666666" stroke-width="1.65" fill="none" stroke-linejoin="round" stroke-linecap="round" />
<path d="M505,377.4 L513.33,375.0 M505,377.4 L507,382.0 M505,410.6 L513.33,413.0 M505,410.6 L507,406.0" stroke="#666666" stroke-width="1.65" fill="none" stroke-linejoin="round" stroke-linecap="round" />
<line x1="269.00" y1="394.00" x2="582.00" y2="394.00" stroke="#666666" stroke-width="1.5" stroke-dasharray="8.3 1.7 1.7 1.6" />
</g>
</svg>
</body></html>
